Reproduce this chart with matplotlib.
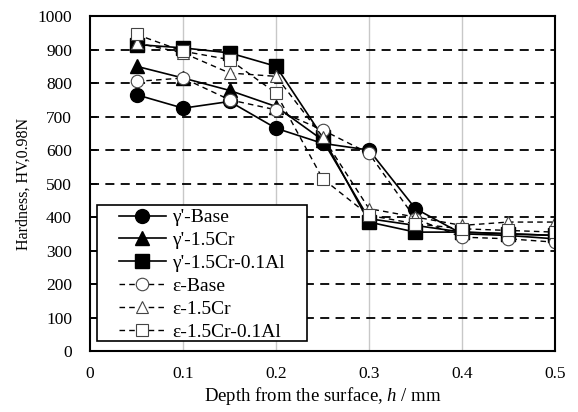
import matplotlib
matplotlib.use('Agg')
import matplotlib.pyplot as plt
from matplotlib.patches import Rectangle

depth = [0.05, 0.10, 0.15, 0.20, 0.25, 0.30, 0.35, 0.40, 0.45, 0.50]

# gamma' layer series (solid)
g_base = [765, 725, 745, 665, 620, 600, 425, 350, 345, 335]
g_cr = [850, 815, 778, 730, 630, 395, 375, 355, 350, 345]
g_cr_al = [915, 905, 890, 850, 640, 385, 355, 355, 350, 345]

# epsilon layer series (dashed)
e_base = [805, 815, 750, 720, 660, 590, 395, 340, 335, 325]
e_cr = [920, 890, 830, 820, 640, 425, 400, 375, 385, 385]
e_cr_al = [945, 895, 870, 770, 515, 405, 380, 365, 360, 355]

labels = ["γ'-Base", "γ'-1.5Cr", "γ'-1.5Cr-0.1Al", "ε-Base", "ε-1.5Cr", "ε-1.5Cr-0.1Al"]

plt.rcParams['font.family'] = ['Liberation Serif', 'DejaVu Serif']
plt.rcParams['mathtext.fontset'] = 'custom'
plt.rcParams['mathtext.it'] = 'Liberation Serif:italic'
plt.rcParams['mathtext.rm'] = 'Liberation Serif'

fig = plt.figure(figsize=(5.78, 4.12), dpi=100)
ax = fig.add_axes([0.156, 0.148, 0.804, 0.813])

solid = dict(color='black', linestyle='-', linewidth=1.2)
dashed = dict(color='black', linestyle=(0, (4, 3)), linewidth=1.0)

ax.plot(depth, g_base, marker='o', markersize=10, label=labels[0], **solid)
ax.plot(depth, g_cr, marker='^', markersize=10, label=labels[1], **solid)
ax.plot(depth, g_cr_al, marker='s', markersize=10, label=labels[2], **solid)
ax.plot(depth, e_base, marker='o', markersize=9, markerfacecolor='white',
        markeredgecolor='#444444', markeredgewidth=0.8, label=labels[3], **dashed)
ax.plot(depth, e_cr, marker='^', markersize=9, markerfacecolor='white',
        markeredgecolor='#444444', markeredgewidth=0.8, label=labels[4], **dashed)
ax.plot(depth, e_cr_al, marker='s', markersize=9, markerfacecolor='white',
        markeredgecolor='#444444', markeredgewidth=0.8, label=labels[5], **dashed)

ax.set_xlim(0, 0.5)
ax.set_ylim(0, 1000)
ax.set_xticks([0, 0.1, 0.2, 0.3, 0.4, 0.5])
ax.set_xticklabels(['0', '0.1', '0.2', '0.3', '0.4', '0.5'])
ax.set_yticks(range(0, 1001, 100))

# grids: light vertical, black dashed horizontal
for xv in [0.1, 0.2, 0.3, 0.4]:
    ax.axvline(xv, color='#c8c8c8', linewidth=1.0, zorder=0)
for yv in range(100, 1000, 100):
    ax.axhline(yv, color='black', linestyle=(0, (5, 3.5)), linewidth=1.3, zorder=0)

ax.tick_params(axis='y', direction='in', length=5, width=1.2, labelsize=12.5, pad=13)
ax.tick_params(axis='x', length=0, labelsize=12.5, pad=11)
for s in ax.spines.values():
    s.set_linewidth(1.5)

ax.set_xlabel('Depth from the surface, $\\mathit{h}$ / mm', fontsize=13.5, labelpad=2)
ax.set_ylabel('Hardness, HV,0.98N', fontsize=11.5, labelpad=4)

# legend without its own frame; box drawn separately for wider side padding
leg = ax.legend(loc='lower left', bbox_to_anchor=(0.062, 0.031), fontsize=14,
                frameon=False, handlelength=2.4, handletextpad=0.35,
                labelspacing=0.27, borderpad=0, borderaxespad=0)
leg.set_zorder(6)
ax.add_patch(Rectangle((0.015, 0.030), 0.452, 0.406, transform=ax.transAxes,
                       facecolor='white', edgecolor='black', linewidth=1.2, zorder=5.5))

plt.savefig('out.png', dpi=100)
plt.close()
